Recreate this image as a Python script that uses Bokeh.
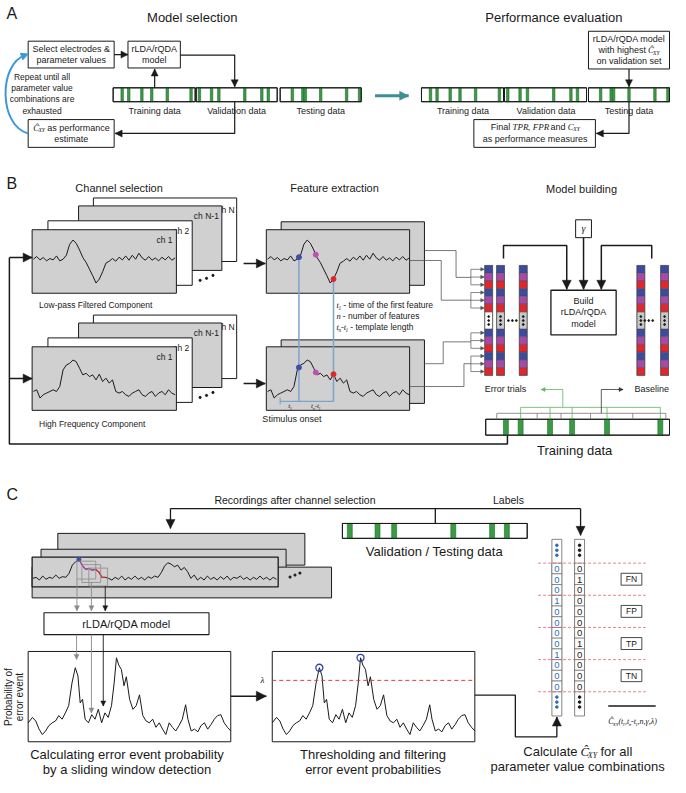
import numpy as np
from bokeh.plotting import figure
from bokeh.models import Range1d, Arrow, NormalHead
from bokeh.core.properties import value
from bokeh.embed import file_html
from bokeh.resources import INLINE

# ---------------- data ----------------
TRAIN_EVENTS = [0.11, 0.19, 0.35, 0.47, 0.66, 0.95]
VALID_EVENTS = [0.04, 0.19, 0.28, 0.60, 0.81, 0.89]
TEST_EVENTS = [0.15, 0.28, 0.31, 0.50, 0.82, 0.98]
BASELINE_SEGMENTS = [0.06, 0.28, 0.41, 0.57, 0.80, 0.98]

LOWPASS = [0, 2.7, -0.7, 1.7, -1.7, 0.7, -0.7, 3.3, -1.7, 0, 4, 15, 19.3, 16, 9.3, 1.7,
           -3.3, -10, -16.7, -24, -20, -12.7, -4, -2, 0.7, -2, 2, -0.7, 3.3, -1, 4, 0,
           6, 1.3, -1, 2.7, -1, 1.3, -1.7, 2, -0.7, 2.7, -1, 1.3]
HIGHFREQ = [3.3, 5, -3.3, 0, 1.7, 3.3, 5, 3.3, 8.3, 25, 30, 31.7, 35, 33.3, 26.7, 20,
            21.7, 18.3, 20, 15, 20.7, 13.3, 16.7, 11.7, 15, 3.3, 1.7, 3.3, 0, -1.7, 1.7,
            3.3, 5, 0, -1.7, 1.7, 3.3, -1.7, 1.7, 3.3, 0, 5, 1.7, 0]
FEATURE_POS = [0.221, 0.340, 0.465]
FEATURE_COLORS = ["#3a4fa8", "#c050b0", "#e02828"]

RECORDING = [0, 1, -1.7, 2.3, -1, 1, 0, 3.3, 0, 1.7,
             1, 5, 13.3, 16.7, 19, 13.3, 9, 10, 8.3, 9,
             6.7, 1, 1, 0, -1.7, 1, -1, 2.3, -1.7, 1,
             -1, 2.3, -1, 1, -1.7, 1.7, 0, 2.3, 1, 5.7,
             12.3, 15.7, 14.3, 11.7, 13.3, 8.3, 11, 6.7, 0, 3.3,
             -1.7, 1, -1.7, 2.3, -1, 1, -1.7, 1.7, -1, 2.3,
             -1.7, 1, 0, 2.3, -1, 1, -1.7, 1, -1, 2.3,
             -1, 1, -1.7, 1, -1]
REC_PEAK = 14
REC_MAGENTA = (14, 19)
REC_RED = (19, 22)

PROB_T = [0, 13, 23, 33, 43, 53, 63, 73, 83, 93, 103, 113, 123, 133, 143, 151, 158, 165,
          173, 183, 193, 203, 213, 223, 233, 243, 253, 261, 268, 275, 283, 291, 298, 308,
          318, 328, 338, 348, 358, 368, 378, 388, 398, 408, 418, 428, 438, 448, 458, 468,
          478, 485, 495, 505, 515, 525, 535, 545, 555, 565, 575, 585, 595, 605, 615]
PROB_V = [0.21, 0.27, 0.23, 0.14, 0.08, 0.12, 0.18, 0.21, 0.23, 0.29, 0.25, 0.32, 0.40,
          0.65, 0.82, 0.73, 0.43, 0.47, 0.25, 0.21, 0.30, 0.25, 0.36, 0.21, 0.32, 0.27,
          0.40, 0.65, 0.93, 0.85, 0.80, 0.62, 0.72, 0.47, 0.36, 0.40, 0.52, 0.29, 0.23,
          0.21, 0.25, 0.16, 0.21, 0.14, 0.08, 0.21, 0.16, 0.12, 0.18, 0.25, 0.41, 0.25,
          0.12, 0.14, 0.11, 0.18, 0.21, 0.14, 0.19, 0.25, 0.29, 0.30, 0.21, 0.16, 0.12]
LAMBDA = 0.68
MIN_PEAK_DIST = 60

DECISIONS = [0, 0, 0, 1, 0, 0, 0, 0, 1, 0, 0, 0]
LABELS = [0, 1, 0, 0, 0, 0, 0, 1, 0, 0, 0, 0]
OUTCOMES = ["FN", "FP", "TP", "TN"]
CELL_COLORS = ["#3c4aa0", "#a64aa8", "#e2262c"]

# ---------------- styles ----------------
SANS = "Liberation Sans"
SERIF = "Liberation Serif"
INK = "#1a1a1a"
GRAY = "#d0d0d0"
GREEN = "#3b9b45"
DKGREEN = "#1f6a2a"
BLUE_NUM = "#2f6fb5"

p = figure(width=670, height=777, x_range=Range1d(4, 682), y_range=Range1d(789, 6),
           output_backend="svg", toolbar_location=None, min_border=0,
           x_axis_location=None, y_axis_location=None)
p.grid.visible = False
p.outline_line_color = None

CW = dict(zip("abcdefghijklmnopqrstuvwxyz",
              [556, 556, 500, 556, 556, 278, 556, 556, 222, 222, 500, 222, 833, 556, 556,
               556, 556, 333, 500, 278, 556, 500, 722, 500, 500, 500]))
CW.update(zip("ABCDEFGHIJKLMNOPQRSTUVWXYZ",
              [667, 667, 722, 722, 667, 611, 778, 722, 278, 500, 667, 556, 833, 722, 778,
               667, 778, 722, 667, 611, 722, 667, 944, 667, 667, 611]))
CW.update({" ": 278, ",": 278, ".": 278, "-": 333, "/": 278, "(": 333, ")": 333,
           "&": 667, "Ĉ": 667, "γ": 450, "λ": 500})


def est(s, size, kind):
    f = 1.0 if kind == "s" else 0.86
    return sum(CW.get(ch, 556) for ch in s) / 1000.0 * size * f


def txt(x, y, s, size=9, align="center", base="middle", font=SANS, style="normal",
        color=INK, angle=0.0):
    p.text(x=[x], y=[y], text=[s], text_font=value(font), text_font_size=f"{size}px",
           text_align=align, text_baseline=base, text_font_style=style,
           text_color=color, angle=angle)


def rich(x, y, pieces, size, align="center", color=INK):
    widths = []
    for s, k in pieces:
        sz = size * 0.62 if k == "b" else size
        widths.append(est(s, sz, k))
    cx = x - sum(widths) / 2 if align == "center" else x
    for (s, k), w in zip(pieces, widths):
        sz = size * 0.62 if k == "b" else size
        lead = len(s) - len(s.lstrip(" "))
        xs = cx + est(" " * lead, sz, k)
        core = s.strip(" ")
        if core:
            if k == "s":
                txt(xs, y, core, size, "left", font=SANS, color=color)
            elif k == "i":
                txt(xs, y, core, size, "left", font=SERIF, style="italic", color=color)
            else:
                txt(xs, y + size * 0.3, core, sz, "left", font=SERIF, style="italic",
                    color=color)
        cx += w


def box(x0, y0, x1, y1, fill="white", line=INK, lw=1.0):
    p.quad(left=[x0], right=[x1], top=[y0], bottom=[y1], fill_color=fill,
           line_color=line, line_width=lw)


def arrow(xs, ys, color=INK, lw=1.2, size=7):
    p.line(xs, ys, line_color=color, line_width=lw)
    p.add_layout(Arrow(x_start=xs[-2], y_start=ys[-2], x_end=xs[-1], y_end=ys[-1],
                       line_alpha=0,
                       end=NormalHead(size=size, fill_color=color, line_color=color,
                                      line_width=0.5)))


def data_bar(x0, x1, y0, y1, events, sw):
    box(x0, y0, x1, y1)
    ev = x0 + np.array(events) * (x1 - x0)
    p.quad(left=ev - sw / 2, right=ev + sw / 2, top=y0, bottom=y1, fill_color=GREEN,
           line_color=DKGREEN, line_width=0.6)
    box(x0, y0, x1, y1, fill=None)
    return ev


def trace(sig, x0, x1, ybase, color=INK, lw=1.0):
    xs = np.linspace(x0, x1, len(sig))
    ys = ybase - np.array(sig, dtype=float)
    p.line(xs, ys, line_color=color, line_width=lw)
    return xs, ys


def dots3(pts, color=INK, size=2.2):
    p.scatter(x=[a for a, b in pts], y=[b for a, b in pts], size=size, color=color)


# ================= Panel A =================
txt(10, 19, "A", 16, "left", base="alphabetic")
txt(198, 23, "Model selection", 13)
txt(564, 23, "Performance evaluation", 13)

box(32, 47, 119, 74)
txt(75.5, 55, "Select electrodes &", 9)
txt(75.5, 66, "parameter values", 9)
box(133, 47, 186, 74)
txt(159.5, 55, "rLDA/rQDA", 9)
txt(159.5, 66, "model", 9)
arrow([119, 133], [60.5, 60.5])
arrow([186, 241, 241], [61, 61, 93])
arrow([160, 160], [94, 75])

data_bar(118, 201, 94, 108, TRAIN_EVENTS, 2.5)
data_bar(202, 284, 94, 108, VALID_EVENTS, 2.5)
data_bar(287, 369, 94, 108, TEST_EVENTS, 2.5)
txt(160, 117, "Training data", 9)
txt(243, 117, "Validation data", 9)
txt(328, 117, "Testing data", 9)

arrow([241, 241, 120], [108, 140, 140])
box(32, 126, 119, 154)
rich(75.5, 134, [("Ĉ", "i"), ("XY", "b"), (" as performance", "s")], 9)
txt(75.5, 146, "estimate", 9)

p.bezier(x0=[32], y0=[140], x1=[29], y1=[61], cx0=[2], cy0=[132], cx1=[2], cy1=[70],
         line_color="#3a9ad9", line_width=2)
p.add_layout(Arrow(x_start=24, y_start=63, x_end=32, y_end=60, line_alpha=0,
                   end=NormalHead(size=7, fill_color="#3a9ad9", line_color="#3a9ad9")))
for i, s in enumerate(["Repeat until all", "parameter value", "combinations are", "exhausted"]):
    txt(46, 83 + 11.3 * i, s, 8.5)

arrow([383, 417], [102, 102], color="#3e8e98", lw=3, size=9)

data_bar(430, 513, 94, 108, TRAIN_EVENTS, 2.5)
data_bar(514, 597, 94, 108, VALID_EVENTS, 2.5)
data_bar(599, 681, 94, 108, TEST_EVENTS, 2.5)
txt(472, 117, "Training data", 9)
txt(556, 117, "Validation data", 9)
txt(640, 117, "Testing data", 9)

box(599, 37, 681, 75)
txt(640, 45, "rLDA/rQDA model", 9)
rich(640, 56, [("with highest ", "s"), ("Ĉ", "i"), ("XY", "b")], 9)
txt(640, 67, "on validation set", 9)
arrow([640, 640], [75, 93])
arrow([640, 640, 607], [108, 140, 140])
box(483, 126, 606, 154)
rich(545, 133, [("Final ", "s"), ("TPR", "i"), (", ", "s"), ("FPR", "i"), (" and ", "s"),
                ("C", "i"), ("XY", "b")], 9)
txt(545, 146, "as performance measures", 9)

# ================= Panel B =================
txt(10, 190, "B", 16, "left", base="alphabetic")
txt(124, 195, "Channel selection", 11)
txt(342, 195, "Feature extraction", 11)
txt(592, 196, "Model building", 11)


def stack(dy, sig, base):
    box(98, 205 + dy, 243, 269 + dy)
    txt(241, 217 + dy, "ch N", 8.5, "right")
    box(83, 213 + dy, 228, 278 + dy, GRAY)
    txt(225, 223 + dy, "ch N-1", 8.5, "right")
    box(52, 228 + dy, 198, 293 + dy)
    txt(195, 238 + dy, "ch 2", 8.5, "right")
    box(36, 237 + dy, 182, 301 + dy, GRAY)
    txt(178, 247 + dy, "ch 1", 8.5, "right")
    dots3([(206, 288 + dy), (212.5, 286 + dy), (219, 283 + dy)])
    trace(sig, 37.3, 180.7, base)


stack(0, LOWPASS, 266.7)
stack(118, HIGHFREQ, 403.3)
txt(43, 313, "Low-pass Filtered Component", 8.5, "left")
txt(43, 433, "High Frequency Component", 8.5, "left")

arrow([13, 36], [265, 265], lw=1.5, size=9)
arrow([13, 36], [387, 387], lw=1.5, size=9)

# feature extraction cards
box(288, 229, 433, 293, GRAY)
box(273, 237, 418, 301, GRAY)
fx_u, fy_u = trace(LOWPASS, 274.3, 417.7, 266.7)
box(288, 348, 433, 412, GRAY)
box(273, 355, 418, 419, GRAY)
fx_l, fy_l = trace(HIGHFREQ, 274.3, 417.7, 403.3)
arrow([250, 272], [271, 271], lw=1.5, size=9)
arrow([250, 272], [392, 392], lw=1.5, size=9)

fpx = 274.3 + np.array(FEATURE_POS) * (417.7 - 274.3)
fpy_u = np.interp(fpx, fx_u, fy_u)
fpy_l = np.interp(fpx, fx_l, fy_l)
p.line([fpx[0], fpx[0]], [fpy_u[0], 410], line_color="#7ba3cc", line_width=1.5)
p.line([fpx[-1], fpx[-1]], [fpy_u[-1], 410], line_color="#7ba3cc", line_width=1.5)
p.line([287, fpx[-1]], [410, 410], line_color="#7ba3cc", line_width=1.2)
p.line([287, 287], [406, 413], line_color="#7ba3cc", line_width=1.2)
p.scatter(x=fpx, y=fpy_u, size=5, color=FEATURE_COLORS)
p.scatter(x=fpx, y=fpy_l, size=5, color=FEATURE_COLORS)
rich(297, 415, [("t", "i"), ("1", "b")], 7)
rich(323, 415, [("t", "i"), ("n", "b"), ("-t", "i"), ("1", "b")], 7)
txt(269, 428, "Stimulus onset", 9, "left")

rich(344, 313, [("t", "i"), ("1", "b"), (" - time of the first feature", "s")], 8.5, "left")
rich(344, 324, [("n", "i"), (" - number of features", "s")], 8.5, "left")
rich(344, 335, [("t", "i"), ("n", "b"), ("-t", "i"), ("1", "b"), (" - template length", "s")],
     8.5, "left")

# feedback line from training data
p.line([13, 13, 517, 517], [265, 453, 453, 444], line_color=INK, line_width=1.5)

# connectors to feature vectors
CON = "#555555"
p.line([433, 465, 465, 480], [258, 258, 285, 285], line_color=CON, line_width=0.8)
p.line([418, 450, 450, 480], [268, 268, 308, 308], line_color=CON, line_width=0.8)
p.line([433, 452, 452, 480], [372, 372, 350, 350], line_color=CON, line_width=0.8)
p.line([418, 473, 473, 480], [395, 395, 372, 372], line_color=CON, line_width=0.8)

CH = 7.8
cell_top = [273 + CH * i for i in range(6)] + [337 + CH * i for i in range(6)]
cell_col = [CELL_COLORS[i % 3] for i in range(12)]
for k, cx in enumerate([494, 506, 529, 648, 672]):
    p.quad(left=cx, right=cx + 8, top=cell_top, bottom=[t + CH for t in cell_top],
           fill_color=cell_col, line_color="#444444", line_width=0.4)
    box(cx, 320, cx + 8, 337, fill="white" if k == 0 else "#c8c8c8", line="#444444",
        lw=0.5)
    dots3([(cx + 4, 324.5), (cx + 4, 328.5), (cx + 4, 332.5)], size=1.8)
    box(cx, 273, cx + 8, 383.8, fill=None, line="#444444", lw=0.6)
for cx in [522, 660]:
    dots3([(cx - 4, 328.5), (cx, 328.5), (cx + 4, 328.5)], size=1.8)
centers = [t + CH / 2 for t in cell_top]
for c in centers:
    arrow([480, 493.5], [c, c], color=CON, lw=0.7, size=3.5)
for g in range(4):
    p.line([480, 480], [centers[3 * g], centers[3 * g + 2]], line_color=CON, line_width=0.7)

box(586, 227, 602, 245)
txt(594, 236, "γ", 10, font=SERIF, style="italic")
box(561, 298, 627, 343, lw=1.3)
txt(594, 309, "Build", 9)
txt(594, 320, "rLDA/rQDA", 9)
txt(594, 332, "model", 9)
arrow([513, 513, 577, 577], [266, 253, 253, 297], lw=1.5, size=9)
arrow([594, 594], [245, 297], lw=1.5, size=9)
arrow([663, 663, 612, 612], [266, 253, 253, 297], lw=1.5, size=9)

txt(515, 398, "Error trials", 9)
txt(663, 398, "Baseline", 9)

ev = data_bar(495, 681, 428, 444, TRAIN_EVENTS, 5)
base = 495 + np.array(BASELINE_SEGMENTS) * (681 - 495)
p.segment(x0=base, y0=422, x1=base, y1=428, line_color="#777777", line_width=0.8)
p.line([base.min(), base.max()], [422, 422], line_color="#777777", line_width=0.8)
err = ev[1:]
p.segment(x0=err, y0=416, x1=err, y1=428, line_color="#5cb85c", line_width=0.8)
p.line([err.min(), err.max()], [416, 416], line_color="#5cb85c", line_width=0.8)
arrow([573, 573, 551], [416, 398, 398], color="#5cb85c", lw=0.8, size=4)
arrow([612, 612, 634], [422, 398, 398], color="#333333", lw=0.8, size=4)
txt(585, 459, "Training data", 13)

# ================= Panel C =================
txt(10, 504, "C", 16, "left", base="alphabetic")
txt(302, 509, "Recordings after channel selection", 10.5)
txt(518, 509, "Labels", 10.5)
p.line([176, 591], [518, 518], line_color=INK, line_width=1.3)
p.line([444, 444], [518, 533], line_color=INK, line_width=1.3)
arrow([176, 176], [518, 538], lw=1.3, size=9)
arrow([591, 591], [518, 545], lw=1.3, size=9)
data_bar(350, 537, 533, 548, VALID_EVENTS, 5)
txt(443, 561, "Validation / Testing data", 13)

box(62, 543, 312, 575, GRAY)
box(45, 559, 293, 590, GRAY)
box(36, 577, 339, 608, GRAY)
box(36, 567, 285, 597, GRAY, lw=1.3)
dots3([(297, 587), (302, 585), (307, 583)])
rx, ry = trace(RECORDING, 36.7, 283.3, 588.3)
p.line(rx[REC_MAGENTA[0]:REC_MAGENTA[1] + 1], ry[REC_MAGENTA[0]:REC_MAGENTA[1] + 1],
       line_color="#a64aa8", line_width=1.3)
p.line(rx[REC_RED[0]:REC_RED[1] + 1], ry[REC_RED[0]:REC_RED[1] + 1],
       line_color="#e02828", line_width=1.3)
p.scatter(x=[rx[REC_PEAK]], y=[ry[REC_PEAK]], size=4, color="#3a4fa8")
win_x = [rx[REC_PEAK] - 2, rx[REC_PEAK] + 3, rx[REC_PEAK] + 10]
for k, wx in enumerate(win_x):
    p.quad(left=[wx], right=[wx + 19], top=[571 + 3.5 * k], bottom=[589 + 3.5 * k],
           fill_color=None, line_color="#8a8a8a", line_width=0.8)
arrow([win_x[0], win_x[0]], [589, 621], color="#8a8a8a", lw=0.9, size=5)
arrow([96, 96], [592, 621], color="#8a8a8a", lw=0.9, size=5)
arrow([110, 110], [596, 621], color=INK, lw=0.9, size=5)

box(48, 623, 215, 645, lw=1.1)
txt(131.5, 634, "rLDA/rQDA model", 11)


def prob_panel(x0, x1, y0, y1):
    box(x0, y0, x1, y1, lw=1.0)
    t = np.array(PROB_T, dtype=float)
    xs = x0 + (t - t.min()) / (t.max() - t.min()) * (x1 - x0)
    ys = y1 - np.array(PROB_V) * (y1 - y0)
    p.line(xs, ys, line_color=INK, line_width=1.0)
    return xs, ys


pxs, pys = prob_panel(32, 237, 662, 753)
arrow([81, 81], [645, 670], color="#8a8a8a", lw=0.9, size=5)
arrow([96, 96], [645, 724], color="#8a8a8a", lw=0.9, size=5)
arrow([108, 108], [645, 717], color=INK, lw=0.9, size=5)
txt(12, 708, "Probability of", 10, angle=np.pi / 2)
txt(23, 708, "error event", 10, angle=np.pi / 2)
txt(132, 766, "Calculating error event probability", 13)
txt(132, 781, "by a sliding window detection", 13)
arrow([237, 273], [707, 707], lw=1.5, size=10)

txs, tys = prob_panel(279, 484, 662, 753)
lam_y = 753 - LAMBDA * (753 - 662)
p.line([279, 484], [lam_y, lam_y], line_color="#e04040", line_width=1.0, line_dash="4 3")
txt(269, lam_y, "λ", 9, font=SERIF, style="italic")
v = np.array(PROB_V)
cand = [i for i in range(1, len(v) - 1) if v[i] > LAMBDA and v[i] > v[i - 1] and v[i] >= v[i + 1]]
cand.sort(key=lambda i: -v[i])
kept = []
for i in cand:
    if all(abs(PROB_T[i] - PROB_T[j]) > MIN_PEAK_DIST for j in kept):
        kept.append(i)
p.scatter(x=txs[kept], y=tys[kept], size=7, fill_color=None, line_color="#3344aa",
          line_width=1.3)
txt(381, 766, "Thresholding and filtering", 13)
txt(381, 781, "error event probabilities", 13)
arrow([484, 525, 525, 567, 567], [706, 706, 748, 748, 728], lw=1.3, size=9)

RH = 10.8
row_top = [573 + RH * i for i in range(12)]
for cx, vals, col in [(567, DECISIONS, BLUE_NUM), (590, LABELS, INK)]:
    box(cx - 5, 549, cx + 5, 727, fill="white", line="#666666", lw=0.8)
    p.quad(left=cx - 5, right=cx + 5, top=row_top, bottom=[t + RH for t in row_top],
           fill_color="white", line_color="#555555", line_width=0.6)
    p.text(x=[cx] * 12, y=[t + RH / 2 + 0.5 for t in row_top], text=[str(d) for d in vals],
           text_font=value(SANS), text_font_size="9.5px", text_align="center",
           text_baseline="middle", text_color=col)
    dots3([(cx, 555), (cx, 560), (cx, 565)], color=col, size=2.6)
    dots3([(cx, 708), (cx, 713), (cx, 718)], color=col, size=2.6)
for k in range(5):
    yy = 573 + 3 * RH * k
    p.line([548, 657], [yy, yy], line_color="#e06666", line_width=0.8, line_dash="3 2")
for k, o in enumerate(OUTCOMES):
    cy = 573 + 3 * RH * k + 1.5 * RH
    box(632, cy - 6, 653, cy + 6, lw=0.8)
    txt(642.5, cy, o, 8.5)
p.line([619, 667], [717, 717], line_color=INK, line_width=1.5)
rich(643, 733, [("Ĉ", "i"), ("XY", "b"), ("(t", "i"), ("1", "b"), (",t", "i"), ("n", "b"),
                ("-t", "i"), ("1", "b"), (",n,γ,λ)", "i")], 8)
rich(588, 763, [("Calculate ", "s"), ("Ĉ", "i"), ("XY", "b"), (" for all", "s")], 13)
txt(588, 778, "parameter value combinations", 13)

open("out.html", "w").write(file_html(p, INLINE))
